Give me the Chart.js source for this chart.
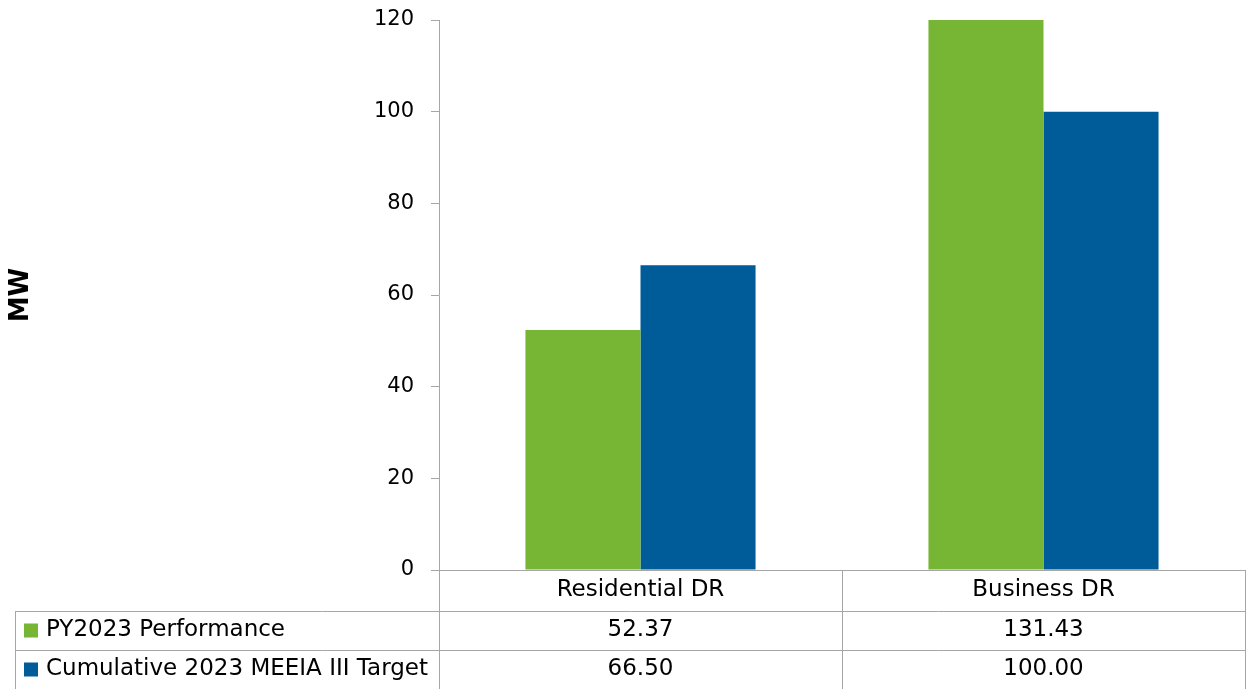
<!DOCTYPE html>
<html>
<head>
<meta charset="utf-8">
<script src="https://cdn.jsdelivr.net/npm/chart.js@4"></script>
<style>
  body { margin: 0; background: #fff; }
  #wrap { width: 1246px; height: 689px; position: relative; }
</style>
</head>
<body>
<div id="wrap"><canvas id="drChart"></canvas></div>
<script>
const categories = ["Residential DR", "Business DR"];
const performance = [52.37, 131.43];
const target = [66.50, 100.00];
const seriesNames = ["PY2023 Performance", "Cumulative 2023 MEEIA III Target"];
const seriesColors = ["#77B534", "#005C99"];

const FONT = "'DejaVu Sans', sans-serif";
const TABLE_SIZE = 23;
const LINE = "#a6a6a6";

// data table under the axis, like the excel one
const dataTable = {
    id: "dataTable",
    afterDraw(chart) {
        const ctx = chart.ctx;
        const area = chart.chartArea;
        const x = chart.scales.x;
        const headerH = 41, rowH = 39, tableLeft = 15;
        const bottom = chart.height;
        const mids = [];
        for (let i = 0; i < categories.length - 1; i++) {
            mids.push((x.getPixelForValue(i) + x.getPixelForValue(i + 1)) / 2);
        }

        ctx.save();
        ctx.strokeStyle = LINE;
        ctx.lineWidth = 1;
        ctx.beginPath();
        [area.left, ...mids, area.right].forEach(px => {
            ctx.moveTo(Math.round(px) + 0.5, area.bottom);
            ctx.lineTo(Math.round(px) + 0.5, bottom);
        });
        ctx.moveTo(tableLeft + 0.5, area.bottom + headerH);
        ctx.lineTo(tableLeft + 0.5, bottom);
        for (let r = 0; r < 2; r++) {
            const y = Math.round(area.bottom + headerH + r * rowH) + 0.5;
            ctx.moveTo(tableLeft, y);
            ctx.lineTo(area.right + 1, y);
        }
        ctx.stroke();

        const rows = [performance, target];
        ctx.font = TABLE_SIZE + "px " + FONT;
        ctx.textBaseline = "middle";
        rows.forEach((vals, r) => {
            const cy = area.bottom + headerH + r * rowH + rowH / 2;
            ctx.fillStyle = seriesColors[r];
            ctx.fillRect(tableLeft + 9, cy - 7, 14, 14);
            ctx.fillStyle = "#000";
            ctx.textAlign = "left";
            ctx.fillText(seriesNames[r], tableLeft + 31, cy);
            ctx.textAlign = "center";
            vals.forEach((v, i) => {
                ctx.fillText(v.toFixed(2), x.getPixelForValue(i), cy);
            });
        });
        ctx.restore();
    }
};

new Chart(document.getElementById("drChart"), {
    type: "bar",
    data: {
        labels: categories,
        datasets: [
            { label: seriesNames[0], data: performance, backgroundColor: seriesColors[0] },
            { label: seriesNames[1], data: target, backgroundColor: seriesColors[1] }
        ]
    },
    options: {
        responsive: true,
        maintainAspectRatio: false,
        animation: false,
        datasets: { bar: { categoryPercentage: 0.571, barPercentage: 1.0 } },
        layout: { padding: { top: 20, right: 1, left: 0, bottom: 0 } },
        plugins: { legend: { display: false }, tooltip: { enabled: false } },
        scales: {
            x: {
                grid: { display: false, drawTicks: false },
                border: { display: true, color: LINE },
                ticks: { color: "#000", font: { family: FONT, size: TABLE_SIZE }, padding: 6 },
                afterFit(scale) { scale.height = 119; }
            },
            y: {
                min: 0,
                max: 120,
                ticks: { stepSize: 20, color: "#000", font: { family: FONT, size: 21 }, padding: 17 },
                grid: { drawOnChartArea: false, drawTicks: true, tickLength: 8, color: LINE },
                border: { color: LINE },
                title: { display: true, text: "MW", color: "#000", font: { family: FONT, size: 26, weight: "bold" }, padding: { top: 6 } },
                afterFit(scale) {
                    scale.width = 439;
                    scale.paddingTop = 0;
                    scale.paddingBottom = 0;
                }
            }
        }
    },
    plugins: [dataTable]
});
</script>
</body>
</html>
